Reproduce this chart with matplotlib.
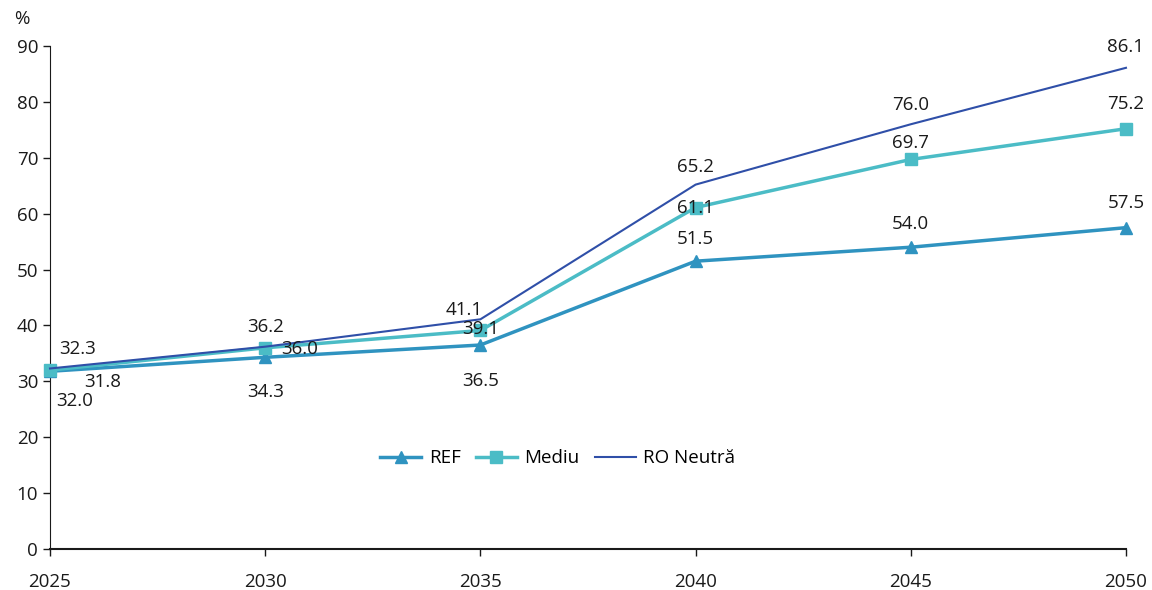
import numpy as np
import matplotlib.pyplot as plt

plt.rcParams['font.family'] = ['Open Sans', 'DejaVu Sans']

years = [2025, 2030, 2035, 2040, 2045, 2050]
ref = [31.8, 34.3, 36.5, 51.5, 54.0, 57.5]
mediu = [32.0, 36.0, 39.1, 61.1, 69.7, 75.2]
ro_neutra = [32.3, 36.2, 41.1, 65.2, 76.0, 86.1]

c_ref = '#2f93c0'
c_med = '#4bbcc6'
c_ro = '#2f4fa8'
txt = '#1a1a1a'

fig = plt.figure(figsize=(11.52, 5.9), dpi=100)
ax = fig.add_axes([0.0434, 0.0695, 0.9340, 0.8525])

ax.plot(years, ref, color=c_ref, lw=2.5, marker='^', ms=8, label='REF', clip_on=False, zorder=3)
ax.plot(years, mediu, color=c_med, lw=2.5, marker='s', ms=8, label='Mediu', clip_on=False, zorder=3)
ax.plot(years, ro_neutra, color=c_ro, lw=1.5, label='RO Neutră', clip_on=False, zorder=4)

# label offsets in points (dx, dy) per series
off_ref = [(38, -8), (0, -25), (0, -26), (0, 16), (0, 17), (0, 18)]
off_med = [(18, -22), (25, -1), (0, 1), (0, 0), (0, 12), (0, 18)]
off_ro = [(20, 14), (0, 14), (-12, 7), (0, 13), (0, 14), (0, 15)]

for vals, offs in [(ref, off_ref), (mediu, off_med), (ro_neutra, off_ro)]:
    for x, y, (dx, dy) in zip(years, vals, offs):
        ax.annotate('%.1f' % y, (x, y), xytext=(dx, dy), textcoords='offset points',
                    ha='center', va='center', fontsize=13.5, color=txt, zorder=5)

ax.set_xlim(2025, 2050)
ax.set_ylim(0, 90)
ax.set_xticks(years)
ax.set_yticks(np.arange(0, 91, 10))
ax.tick_params(axis='both', labelsize=13.5, length=5, width=1, colors=txt)
ax.tick_params(axis='x', pad=12)
for s in ['top', 'right']:
    ax.spines[s].set_visible(False)
ax.spines['left'].set_color(txt)
ax.spines['bottom'].set_color(txt)
ax.spines['bottom'].set_linewidth(1.5)

fig.text(0.012, 0.96, '%', fontsize=13.5, color=txt)

ax.legend(loc='center', bbox_to_anchor=(0.472, 0.18), ncol=3, frameon=False,
          fontsize=13.5, handlelength=2.2, columnspacing=0.8, handletextpad=0.4)

fig.savefig('out.png', dpi=100)
